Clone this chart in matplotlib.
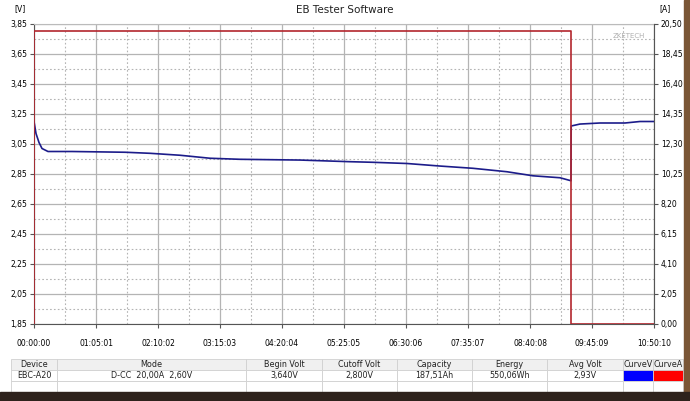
import matplotlib.pyplot as plt
from matplotlib.patches import Rectangle
from matplotlib.ticker import FixedLocator

# time in seconds since start
volt_t = [0, 126, 315, 503, 881, 2391, 5726, 7299, 9186, 11074, 12961, 16736,
          19882, 21329, 23468, 25545, 27621, 29761, 31397, 33095, 33787,
          33800, 34353, 35612, 37185, 38129, 39010]
volt_v = [3.20, 3.12, 3.06, 3.02, 3.00, 3.00, 2.995, 2.988, 2.975, 2.955, 2.948, 2.943,
          2.932, 2.928, 2.92, 2.903, 2.888, 2.865, 2.838, 2.825, 2.805,
          3.17, 3.183, 3.19, 3.19, 3.20, 3.20]
curr_t = [0, 0, 33787, 33787, 39010]
curr_a = [0.0, 20.0, 20.0, 0.0, 0.0]

x_ticks = [0, 3901, 7802, 11703, 15604, 19505, 23406, 27307, 31208, 35109, 39010]
x_labels = ["00:00:00", "01:05:01", "02:10:02", "03:15:03", "04:20:04", "05:25:05",
            "06:30:06", "07:35:07", "08:40:08", "09:45:09", "10:50:10"]
v_ticks = [1.85, 2.05, 2.25, 2.45, 2.65, 2.85, 3.05, 3.25, 3.45, 3.65, 3.85]
a_ticks = [0.00, 2.05, 4.10, 6.15, 8.20, 10.25, 12.30, 14.35, 16.40, 18.45, 20.50]

col_names = ["Device", "Mode", "Begin Volt", "Cutoff Volt", "Capacity", "Energy",
             "Avg Volt", "CurveV", "CurveA"]
row_vals = ["EBC-A20", "D-CC  20,00A  2,60V", "3,640V", "2,800V", "187,51Ah",
            "550,06Wh", "2,93V", "", ""]
col_px = [46, 189, 76, 75, 75, 75, 76, 30, 30]


def comma(v):
    return ("%.2f" % v).replace(".", ",")


fig = plt.figure(figsize=(6.9, 4.01), dpi=100)
fig.patch.set_facecolor("white")

# photo edges around the screenshot
fig.patches.append(Rectangle((684 / 690, 0), 6 / 690, 1, transform=fig.transFigure,
                             color="#7a5636", zorder=0))
fig.patches.append(Rectangle((0, 0), 1, 9 / 401, transform=fig.transFigure,
                             color="#2e221c", zorder=0))

ax = fig.add_axes([34 / 690, 77 / 401, 620 / 690, 300 / 401])
ax.plot(volt_t, volt_v, color="#1c1c8a", lw=1.2, zorder=3)
ax.set_xlim(0, 39010)
ax.set_ylim(1.85, 3.85)

ax.xaxis.set_major_locator(FixedLocator(x_ticks))
ax.set_xticklabels(x_labels)
ax.xaxis.set_minor_locator(FixedLocator([t + 1950.5 for t in x_ticks[:-1]]))
ax.yaxis.set_major_locator(FixedLocator(v_ticks))
ax.set_yticklabels([comma(v) for v in v_ticks])
ax.yaxis.set_minor_locator(FixedLocator([v + 0.1 for v in v_ticks[:-1]]))
ax.grid(which="major", color="#b4b4b4", lw=0.9)
ax.grid(which="minor", color="#b4b4b4", lw=0.8, ls=(0, (1.5, 2)))
ax.tick_params(which="major", labelsize=5.5, length=3, color="#555555", pad=2)
ax.tick_params(which="minor", length=0)
ax.tick_params(axis="x", pad=8)
for s in ax.spines.values():
    s.set_color("#bbbbbb")
ax.spines["left"].set_color("#555555")
ax.spines["bottom"].set_color("#555555")

ax2 = ax.twinx()
ax2.plot(curr_t, curr_a, color="#b3262e", lw=1.2, zorder=2)
ax2.set_ylim(0, 20.5)
ax2.yaxis.set_major_locator(FixedLocator(a_ticks))
ax2.set_yticklabels([comma(v) for v in a_ticks])
ax2.tick_params(labelsize=5.5, length=3, color="#555555", pad=2)
ax2.spines["right"].set_color("#555555")
for s in ["left", "top", "bottom"]:
    ax2.spines[s].set_visible(False)

ax.text(0.985, 0.96, "ZKETECH", transform=ax.transAxes, ha="right", va="center",
        fontsize=5, color="#b0b0b0")
fig.text(345 / 690, 1 - 10 / 401, "EB Tester Software", ha="center", va="center",
         fontsize=7.5, color="#222222")
fig.text(20 / 690, 1 - 9 / 401, "[V]", ha="center", va="center", fontsize=5.5)
fig.text(665 / 690, 1 - 9 / 401, "[A]", ha="center", va="center", fontsize=5.5)

# summary table under the chart
tax = fig.add_axes([11 / 690, 9 / 401, 672 / 690, 33 / 401])
tax.axis("off")
total = float(sum(col_px))
tbl = tax.table(cellText=[row_vals, [""] * 9], colLabels=col_names,
                colWidths=[w / total for w in col_px], cellLoc="center",
                bbox=[0, 0, 1, 1])
tbl.auto_set_font_size(False)
for (r, c), cell in tbl.get_celld().items():
    cell.set_edgecolor("#d0d0d0")
    cell.set_linewidth(0.6)
    cell.get_text().set_fontsize(5.8)
    cell.get_text().set_color("#222222")
    if r == 0:
        cell.set_facecolor("#f0f0f0")
tbl[1, 7].set_facecolor("#0000ff")
tbl[1, 8].set_facecolor("#ff0000")

fig.savefig("out.png", dpi=100)
